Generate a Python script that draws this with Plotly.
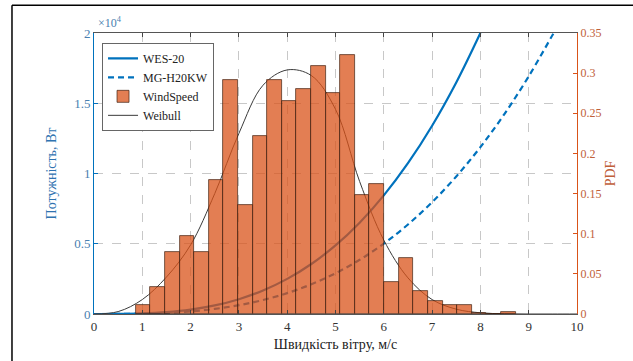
import plotly.graph_objects as go

# ---- data ----
speed = [0, 0.5, 1, 1.5, 2, 2.5, 3, 3.5, 4, 4.5, 5, 5.5, 6, 6.5, 7, 7.5, 8, 8.5, 9, 9.5, 10]

wes20_speed = [0, 0.5, 1, 1.5, 2, 2.5, 3, 3.5, 4, 4.5, 5, 5.5, 6, 6.5, 7, 7.5, 8]
wes20_power = [0, 5, 39, 132, 312, 610, 1055, 1675, 2500, 3560, 4880, 6500, 8440, 10730, 13400, 16480, 20000]

mg_speed = [0, 0.5, 1, 1.5, 2, 2.5, 3, 3.5, 4, 4.5, 5, 5.5, 6, 6.5, 7, 7.5, 8, 8.5, 9, 9.5, 9.52]
mg_power = [0, 3, 23, 78, 186, 363, 626, 995, 1485, 2114, 2900, 3860, 5011, 6371, 7958, 9788, 11878, 14248, 16913, 19891, 20000]

bin_centers = [1.014, 1.317, 1.619, 1.922, 2.224, 2.527, 2.829, 3.132, 3.434, 3.737,
               4.039, 4.342, 4.644, 4.947, 5.249, 5.552, 5.854, 6.157, 6.459, 6.762,
               7.064, 7.367, 7.669, 7.972, 8.274, 8.577]
bin_width = 0.3025
pdf_hist = [0.0115, 0.034, 0.0767, 0.0969, 0.0767, 0.167, 0.291, 0.136, 0.222, 0.291,
            0.265, 0.280, 0.309, 0.275, 0.323, 0.148, 0.162, 0.040, 0.070, 0.029,
            0.0165, 0.0107, 0.0107, 0.001, 0.0004, 0.002]

weibull = [0, 0.003, 0.018, 0.046, 0.086, 0.150, 0.225, 0.285, 0.304, 0.297, 0.255,
           0.165, 0.092, 0.045, 0.018, 0.006, 0.0015, 0.0003, 0, 0, 0]

xticks = [0, 1, 2, 3, 4, 5, 6, 7, 8, 9, 10]
yticks_left = [0, 5000, 10000, 15000, 20000]
yticks_left_text = ["0", "0.5", "1", "1.5", "2"]
yticks_right = [0, 0.05, 0.1, 0.15, 0.2, 0.25, 0.3, 0.35]
yticks_right_text = ["0", "0.05", "0.1", "0.15", "0.2", "0.25", "0.3", "0.35"]

BLUE = "#0072BD"
ORANGE = "#D95319"
FONT = "Liberation Serif"

fig = go.Figure()

fig.add_trace(go.Scatter(x=wes20_speed, y=wes20_power, mode="lines", name="WES-20",
                         line=dict(color=BLUE, width=2.2, shape="spline"),
                         yaxis="y", legendrank=1))
fig.add_trace(go.Scatter(x=mg_speed, y=mg_power, mode="lines", name="MG-H20KW",
                         line=dict(color=BLUE, width=2.2, dash="6px,4px", shape="spline"),
                         yaxis="y", legendrank=2))
fig.add_trace(go.Scatter(x=speed, y=weibull, mode="lines", name="Weibull",
                         line=dict(color="#3a3a3a", width=1, shape="spline"),
                         yaxis="y2", legendrank=4))
fig.add_trace(go.Bar(x=bin_centers, y=pdf_hist, width=bin_width, name="WindSpeed",
                     marker=dict(color="rgba(217,83,25,0.75)",
                                 line=dict(color="rgba(60,30,15,0.85)", width=0.8)),
                     yaxis="y3", legendrank=3))

fig.update_layout(
    width=633, height=361,
    margin=dict(l=94, r=56, t=33, b=45),
    paper_bgcolor="white", plot_bgcolor="white",
    font=dict(family=FONT, size=13, color="#333"),
    showlegend=True,
    bargap=0,
    legend=dict(x=0.0166, y=0.965, xanchor="left", yanchor="top",
                bgcolor="white", bordercolor="#666", borderwidth=1,
                font=dict(family=FONT, size=12, color="#222"),
                tracegroupgap=0, itemwidth=30),
    xaxis=dict(range=[0, 10], tickvals=xticks, ticks="inside", ticklen=4,
               showline=True, linecolor="#555", linewidth=1, mirror="ticks",
               showgrid=True, gridcolor="#c8c8c8", griddash="dash", gridwidth=1,
               zeroline=False, tickfont=dict(family=FONT, size=13, color="#333"),
               title=dict(text="Швидкість вітру, м/с", standoff=6,
                          font=dict(family=FONT, size=14, color="#222"))),
    yaxis=dict(range=[0, 20000], tickvals=yticks_left, ticktext=yticks_left_text,
               ticks="inside", ticklen=4, tickcolor=BLUE,
               showline=True, linecolor=BLUE, linewidth=1,
               showgrid=True, gridcolor="#c8c8c8", griddash="dash", gridwidth=1,
               zeroline=False, tickfont=dict(family=FONT, size=13, color="#4a7fb0"),
               title=dict(text="Потужність, Вт", standoff=14,
                          font=dict(family=FONT, size=14, color="#2f73b0"))),
    yaxis2=dict(range=[0, 0.35], tickvals=yticks_right, ticktext=yticks_right_text,
                overlaying="y", side="right", anchor="x",
                ticks="inside", ticklen=4, tickcolor=ORANGE,
                showline=True, linecolor=ORANGE, linewidth=1,
                showgrid=False, zeroline=False,
                tickfont=dict(family=FONT, size=12, color="#c0603a"),
                title=dict(text="PDF", standoff=4,
                           font=dict(family=FONT, size=14, color="#c0603a"))),
    yaxis3=dict(range=[0, 0.35], overlaying="y", anchor="x", visible=False,
                showgrid=False, zeroline=False),
)

fig.add_annotation(text="×10<sup>4</sup>", xref="paper", yref="paper",
                   x=0.004, y=1.005, xanchor="left", yanchor="bottom",
                   showarrow=False, font=dict(family=FONT, size=12, color="#4a7fb0"))

# outer frame of the picture (left and top edges visible in the reference)
fig.add_shape(type="line", xref="paper", yref="paper",
              x0=-0.1698, x1=-0.1698, y0=-0.2, y1=1.099,
              line=dict(color="black", width=1.5))
fig.add_shape(type="line", xref="paper", yref="paper",
              x0=-0.1698, x1=1.2, y0=1.099, y1=1.099,
              line=dict(color="black", width=1.5))

fig.write_html("out.html", config={"displayModeBar": False},
               post_script="document.body.style.margin='0';")
